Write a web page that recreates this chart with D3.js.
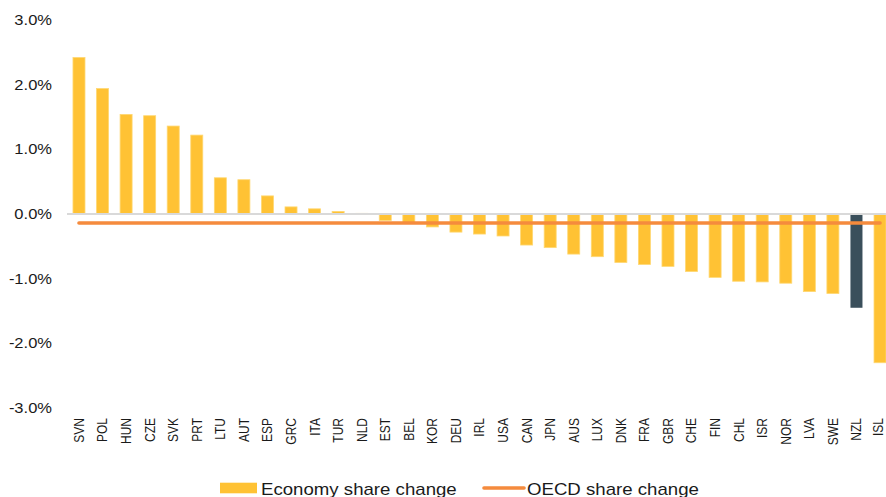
<!DOCTYPE html>
<html>
<head>
<meta charset="utf-8">
<script src="https://cdn.jsdelivr.net/npm/d3@7"></script>
<style>
  html, body { margin: 0; padding: 0; background: #fff; }
  svg { display: block; font-family: "Liberation Sans", Arial, sans-serif; }
</style>
</head>
<body>
<svg id="chart" width="886" height="497"></svg>
<script>
// Change in each economy's share, percentage points
const countries = ["SVN","POL","HUN","CZE","SVK","PRT","LTU","AUT","ESP","GRC","ITA","TUR","NLD","EST","BEL","KOR","DEU","IRL","USA","CAN","JPN","AUS","LUX","DNK","FRA","GBR","CHE","FIN","CHL","ISR","NOR","LVA","SWE","NZL","ISL"];
const shareChange = [2.42, 1.94, 1.54, 1.52, 1.36, 1.22, 0.56, 0.53, 0.28, 0.11, 0.08, 0.04, 0.01, -0.10, -0.13, -0.20, -0.28, -0.31, -0.34, -0.48, -0.52, -0.62, -0.66, -0.75, -0.78, -0.81, -0.89, -0.98, -1.04, -1.05, -1.07, -1.20, -1.23, -1.45, -2.30];
const oecdChange = -0.14;
const highlight = "NZL";
const yTicks = [3, 2, 1, 0, -1, -2, -3];
const legendLabels = ["Economy share change", "OECD share change"];

const data = countries.map((c, i) => ({ country: c, value: shareChange[i] }));

const svg = d3.select("#chart");
const W = 886;
const yellow = "#FFC234", dark = "#3A4F5B", orange = "#F58B3D";
const stretch = 1.18;

const x = d3.scaleBand()
  .domain(countries)
  .range([67.2, 891.8])
  .paddingInner(0.49)
  .paddingOuter(0.245);

const y = d3.scaleLinear().domain([-3, 3]).range([408, 20]);

// y-axis labels
svg.append("g").selectAll("text")
  .data(yTicks)
  .join("text")
  .attr("transform", d => `translate(52,${y(d)}) scale(${stretch},1)`)
  .attr("dy", "0.35em")
  .attr("text-anchor", "end")
  .attr("font-size", 14)
  .attr("fill", "#1a1a1a")
  .text(d => d.toFixed(1) + "%");

// bars
svg.append("g").selectAll("rect")
  .data(data)
  .join("rect")
  .attr("x", d => x(d.country))
  .attr("width", x.bandwidth())
  .attr("y", d => y(Math.max(0, d.value)))
  .attr("height", d => Math.abs(y(d.value) - y(0)))
  .attr("fill", d => d.country === highlight ? dark : yellow)
  .attr("stroke", d => d.country === highlight ? "none" : "#FFD873")
  .attr("stroke-width", 0.8);

// zero baseline
svg.append("line")
  .attr("x1", 67).attr("x2", W)
  .attr("y1", y(0)).attr("y2", y(0))
  .attr("stroke", "#D9D9D9")
  .attr("stroke-width", 2);

// OECD average line across the categories
const line = d3.line()
  .x(d => x(d) + x.bandwidth() / 2)
  .y(() => y(oecdChange));
svg.append("path")
  .datum([countries[0], countries[countries.length - 1]])
  .attr("d", line)
  .attr("fill", "none")
  .attr("stroke", orange)
  .attr("stroke-width", 3.6)
  .attr("stroke-linecap", "round");

// category labels (kept inside the right edge of the page)
svg.append("g").selectAll("text")
  .data(countries)
  .join("text")
  .attr("transform", d => `translate(${Math.min(x(d) + x.bandwidth() / 2, W - 8)},418) rotate(-90) scale(1,${stretch})`)
  .attr("dy", "0.35em")
  .attr("text-anchor", "end")
  .attr("font-size", 12)
  .attr("fill", "#1a1a1a")
  .text(d => d);

// legend
const legend = svg.append("g");
legend.append("rect")
  .attr("x", 220).attr("y", 482.7)
  .attr("width", 37).attr("height", 10.6)
  .attr("fill", yellow);
legend.append("text")
  .attr("transform", `translate(261,494.5) scale(${stretch},1)`)
  .attr("font-size", 15.8)
  .attr("fill", "#1a1a1a")
  .text(legendLabels[0]);
legend.append("line")
  .attr("x1", 484).attr("x2", 524)
  .attr("y1", 488).attr("y2", 488)
  .attr("stroke", orange)
  .attr("stroke-width", 3.6)
  .attr("stroke-linecap", "round");
legend.append("text")
  .attr("transform", `translate(527,494.5) scale(${stretch},1)`)
  .attr("font-size", 15.8)
  .attr("fill", "#1a1a1a")
  .text(legendLabels[1]);
</script>
</body>
</html>
